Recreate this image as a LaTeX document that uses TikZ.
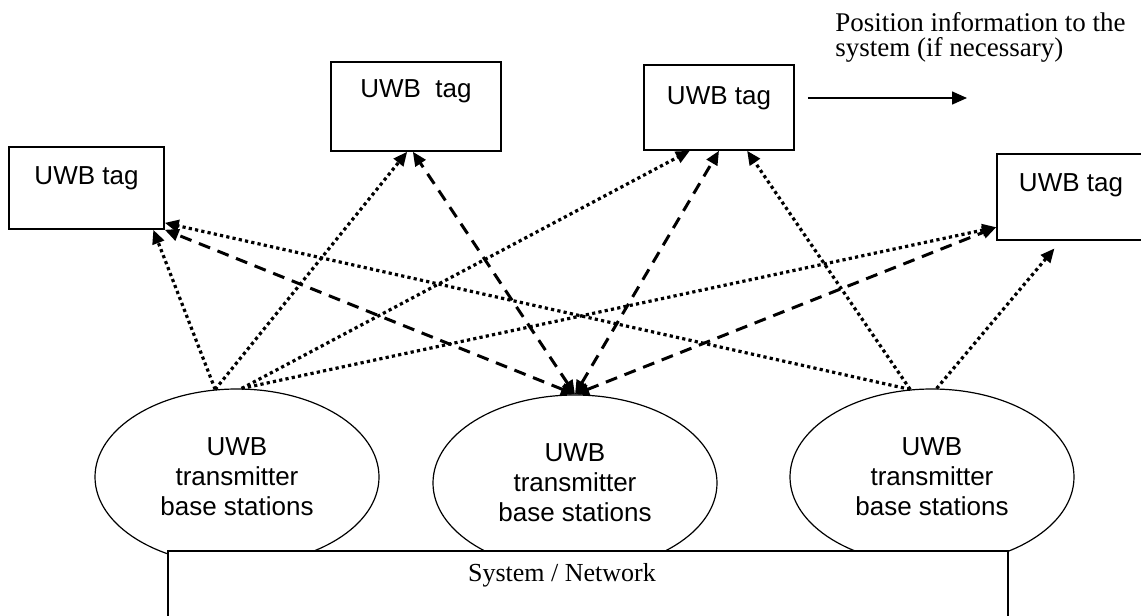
\documentclass[tikz,border=0pt]{standalone}
\usepackage{fontspec}
\setmainfont{Liberation Serif}
\newfontfamily\arialfont{Liberation Sans}
\usetikzlibrary{arrows.meta,shapes.geometric}

\begin{document}
\begin{tikzpicture}[x=0.5pt, y=-0.5pt,
    tagbox/.style={draw, line width=.75pt, inner sep=0pt, text height=18.5pt,
      font=\arialfont\fontsize{13}{15}\selectfont},
    station/.style={draw, ellipse, line width=.6pt, fill=white, inner sep=0pt,
      minimum width=142pt, minimum height=88pt, align=center,
      font=\arialfont\fontsize{13}{15}\selectfont},
    sysbox/.style={draw, line width=.75pt, fill=white, anchor=north west,
      inner sep=0pt, minimum width=420pt, minimum height=60pt},
    radio/.style={line width=1.6pt, dash pattern=on 1.6pt off 1.6pt,
      -{Triangle[length=7pt,width=6pt]}},
    link/.style={line width=1.5pt, dash pattern=on 6pt off 4pt,
      {Triangle[length=7pt,width=6pt]}-{Triangle[length=7pt,width=6pt]}}]
  \useasboundingbox (0,0) rectangle (1141,616);

  % tags
  \node [tagbox, minimum width=77.5pt, text depth=22.5pt] (tag1) at (86.5,188) {UWB tag};
  \node [tagbox, minimum width=85pt, text height=17.5pt, text depth=27pt] (tag2) at (416,106.5) {UWB\ \ tag};
  \node [tagbox, minimum width=75pt, text height=19.5pt, text depth=23pt] (tag3) at (719,107.5) {UWB tag};
  \node [tagbox, minimum width=74pt, text depth=24.5pt] (tag4) at (1071,197) {UWB tag};

  % base stations and system
  \node [station] (bs1) at (237,477) {UWB\\transmitter\\base stations};
  \node [station] (bs2) at (575,483) {UWB\\transmitter\\base stations};
  \node [station] (bs3) at (932,477) {UWB\\transmitter\\base stations};
  \node [sysbox] (sys) at (167,550) {};
  \node [font=\fontsize{13}{15}\selectfont] (systext) at (562,575) {System / Network};

  % position information
  \node [anchor=west, align=left, inner sep=0pt, font=\fontsize{13.5}{12.5}\selectfont] (info) at (835,37)
    {Position information to the\\system (if necessary)};
  \coordinate (infoend) at (967,98);
  \draw [line width=.75pt, -{Triangle[length=7.5pt,width=6.5pt]}] ([xshift=6.5pt,yshift=4.75pt]tag3.east) -- (infoend);

  % dotted links
  \draw [radio] (bs1.104) -- (tag1.-32);
  \draw [radio] (bs1.104) -- (tag2.-101);
  \draw [radio] (bs1.87) -- (tag3.-124);
  \draw [radio] (bs1.87) -- (tag4.202);
  \draw [radio] (bs3.104) -- (tag1.-24);
  \draw [radio] (bs3.104) -- (tag3.-57);
  \draw [radio, shorten >=5pt] (bs3.87) -- (tag4.-103);

  % dashed links
  \draw [link] (bs2.north) -- (tag1.south east);
  \draw [link] (bs2.north) -- (tag2.-94);
  \draw [link] (bs2.north) -- (tag3.south);
  \draw [link] (bs2.north) -- (tag4.202);
\end{tikzpicture}
\end{document}
